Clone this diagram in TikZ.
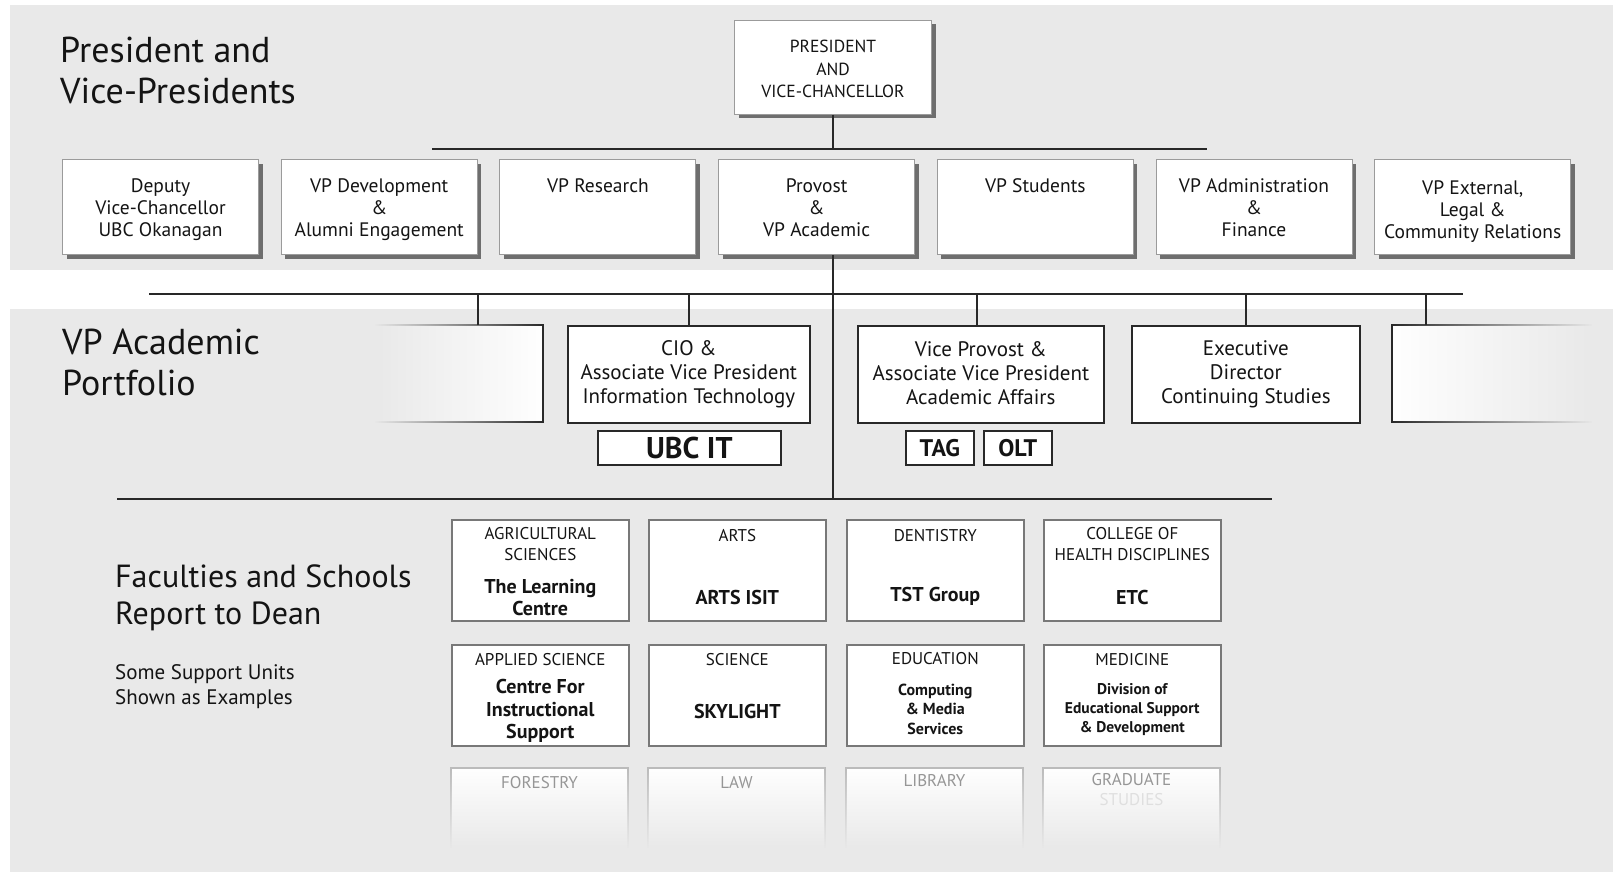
\documentclass[tikz,border=0pt]{standalone}
\usepackage{fontspec}
\setmainfont{PT Sans}
\usetikzlibrary{fadings,shadows}
\definecolor{bg}{RGB}{233,233,233}
\definecolor{ln}{RGB}{40,40,40}
\definecolor{vpb}{RGB}{155,155,155}
\definecolor{shd}{RGB}{110,110,110}
\definecolor{fcb}{RGB}{120,120,120}
\definecolor{txt}{RGB}{20,20,20}
\definecolor{ftx}{RGB}{150,150,150}
\tikzset{
  conn/.style={draw=ln, line width=1.6pt},
  vpbox/.style={draw=vpb, line width=1pt, fill=white, anchor=north west, inner sep=0pt,
     minimum width=196pt, minimum height=95pt,
     drop shadow={shadow xshift=4pt, shadow yshift=-4pt, fill=shd, opacity=1}},
  vptext/.style={font=\fontsize{19.5}{22}\selectfont, align=center, inner sep=0pt, text=txt},
  pbox/.style={draw=ln, line width=1.6pt, fill=white, anchor=north west, inner sep=0pt, minimum height=97pt},
  ptext/.style={font=\fontsize{21}{24}\selectfont, align=center, inner sep=0pt, text=txt},
  sbox/.style={draw=ln, line width=1.6pt, fill=white, anchor=north west, inner sep=0pt, minimum height=34pt},
  fbox/.style={draw=fcb, line width=1.6pt, fill=white, anchor=north west, inner sep=0pt,
     minimum width=177pt, minimum height=101pt},
  fcap/.style={font=\fontsize{17}{21}\selectfont, align=center, inner sep=0pt, text=txt},
  fbold/.style={font=\bfseries\fontsize{20}{22.5}\selectfont, align=center, inner sep=0pt, text=txt},
  fsmall/.style={font=\bfseries\fontsize{16}{19.5}\selectfont, align=center, inner sep=0pt, text=txt},
  ftxt/.style={font=\fontsize{17}{21}\selectfont, align=center, inner sep=0pt, text=ftx},
  ttl/.style={font=\fontsize{36}{41}\selectfont, align=left, anchor=north west, inner sep=0pt, text=txt},
}
\begin{document}
\begin{tikzpicture}[x=1pt,y=-1pt]
\useasboundingbox (0,0) rectangle (1613,872);
\fill[white] (0,0) rectangle (1613,872);
\fill[bg] (10,5) rectangle (1613,270);
\fill[bg] (10,309) rectangle (1613,872);

% titles
\node[ttl] (t1) at (60,37) {President and\\Vice-Presidents};
\node[ttl] (t2) at (62,329) {VP Academic\\Portfolio};
\node[ttl, font=\fontsize{32}{37}\selectfont] (t3) at (115,565) {Faculties and Schools\\Report to Dean};
\node[ttl, font=\fontsize{21}{25.5}\selectfont] (t4) at (115,664) {Some Support Units\\Shown as Examples};

% president
\node[vpbox, minimum width=197pt, minimum height=94pt] (pres) at (734,20) {};
\node[vptext, font=\fontsize{17.5}{22.5}\selectfont] (presT) at ([yshift=-1.5pt]pres.center) {PRESIDENT\\AND\\VICE-CHANCELLOR};

% vice presidents
\node[vpbox] (vp1) at (62,159) {};
\node[vpbox] (vp2) at (280.7,159) {};
\node[vpbox] (vp3) at (499.4,159) {};
\node[vpbox] (vp4) at (718.1,159) {};
\node[vpbox] (vp5) at (936.8,159) {};
\node[vpbox] (vp6) at (1155.5,159) {};
\node[vpbox] (vp7) at (1374.2,159) {};
\node[vptext] (vp1T) at (vp1.north |- 0,210) {Deputy\\Vice-Chancellor\\UBC Okanagan};
\node[vptext] (vp2T) at (vp2.north |- 0,210) {VP Development\\\&\\Alumni Engagement};
\node[vptext] (vp3T) at (vp3.north |- 0,186) {VP Research};
\node[vptext] (vp4T) at (vp4.north |- 0,208) {Provost\\\&\\VP Academic};
\node[vptext] (vp5T) at (vp5.north |- 0,186) {VP Students};
\node[vptext] (vp6T) at (vp6.north |- 0,208) {VP Administration\\\&\\Finance};
\node[vptext] (vp7T) at (vp7.north |- 0,212) {VP External,\\Legal \&\\Community Relations};

% bars
\coordinate (h1l) at (432,149);
\coordinate (h1r) at (1207,149);
\coordinate (h2l) at (149,294);
\coordinate (h2r) at (1463,294);
\coordinate (h3l) at (117,499);
\coordinate (h3r) at (1272,499);
\draw[conn] (h1l) -- (h1r);
\draw[conn] (h2l) -- (h2r);
\draw[conn] (h3l) -- (h3r);
\draw[conn] (pres.south) -- (pres.south |- h1l);
\draw[conn] (pres.south |- vp4.south) -- (pres.south |- h3l);

% faded portfolio boxes
\fill[white, path fading=west] (375,325) rectangle (543,422);
\draw[ln, line width=1.6pt, path fading=west] (375,325) -- (543,325) -- (543,422) -- (375,422);
\fill[white, path fading=east] (1392,325) rectangle (1592,422);
\draw[ln, line width=1.6pt, path fading=east] (1592,325) -- (1392,325) -- (1392,422) -- (1592,422);
\coordinate (fl) at (478,325);
\coordinate (fr) at (1426,325);

% portfolio
\node[pbox, minimum width=242pt] (cio) at (567,325) {};
\node[pbox, minimum width=246pt] (vpr) at (857,325) {};
\node[pbox, minimum width=228pt] (exd) at (1131,325) {};
\node[ptext] (cioT) at (cio.center) {CIO \&\\Associate Vice President\\Information Technology};
\node[ptext] (vprT) at ([yshift=1.5pt]vpr.center) {Vice Provost \&\\Associate Vice President\\Academic Affairs};
\node[ptext] (exdT) at (exd.center) {Executive\\Director\\Continuing Studies};
\draw[conn] (fl) -- (fl |- h2l);
\draw[conn] (cio.north) -- (cio.north |- h2l);
\draw[conn] ([xshift=-4pt]vpr.north) -- ([xshift=-4pt]vpr.north |- h2l);
\draw[conn] (exd.north) -- (exd.north |- h2l);
\draw[conn] (fr) -- (fr |- h2l);

\node[sbox, minimum width=183pt] (ubc) at (597,430) {};
\node[sbox, minimum width=68pt] (tag) at (905,430) {};
\node[sbox, minimum width=68pt] (olt) at (983,430) {};
\node[inner sep=0pt, font=\bfseries\fontsize{30}{30}\selectfont, text=txt] (ubcT) at (ubc.center) {UBC IT};
\node[inner sep=0pt, font=\bfseries\fontsize{24}{24}\selectfont, text=txt] (tagT) at (tag.center) {TAG};
\node[inner sep=0pt, font=\bfseries\fontsize{24}{24}\selectfont, text=txt] (oltT) at (olt.center) {OLT};

% faculties
\node[fbox] (agr) at (451,519) {};
\node[fbox] (arts) at (648,519) {};
\node[fbox] (dent) at (846,519) {};
\node[fbox] (chd) at (1043,519) {};
\node[fbox] (aps) at (451,644) {};
\node[fbox] (sci) at (648,644) {};
\node[fbox] (edu) at (846,644) {};
\node[fbox] (med) at (1043,644) {};

\node[fcap] (agrA) at (agr.north |- 0,544) {AGRICULTURAL\\SCIENCES};
\node[fbold] (agrB) at (agr.north |- 0,597.5) {The Learning\\Centre};
\node[fcap] (artsA) at (arts.north |- 0,536) {ARTS};
\node[fbold] (artsB) at (arts.north |- 0,597) {ARTS ISIT};
\node[fcap] (dentA) at (dent.north |- 0,536) {DENTISTRY};
\node[fbold] (dentB) at (dent.north |- 0,596) {TST Group};
\node[fcap] (chdA) at (chd.north |- 0,544.5) {COLLEGE OF\\HEALTH DISCIPLINES};
\node[fbold] (chdB) at (chd.north |- 0,597) {ETC};

\node[fcap] (apsA) at (aps.north |- 0,660) {APPLIED SCIENCE};
\node[fbold] (apsB) at (aps.north |- 0,711) {Centre For\\Instructional\\Support};
\node[fcap] (sciA) at (sci.north |- 0,660) {SCIENCE};
\node[fbold] (sciB) at (sci.north |- 0,711) {SKYLIGHT};
\node[fcap] (eduA) at (edu.north |- 0,659) {EDUCATION};
\node[fsmall] (eduB) at (edu.north |- 0,709) {Computing\\\& Media\\Services};
\node[fcap] (medA) at (med.north |- 0,660) {MEDICINE};
\node[fsmall, font=\bfseries\fontsize{15.5}{19}\selectfont] (medB) at (med.north |- 0,710) {Division of\\Educational Support\\\& Development};

% faded faculty row
\foreach \xx in {451,648,846,1043}{
  \fill[white, path fading=south] (\xx,768) rectangle ({\xx+177},848);
  \draw[fcb!50, line width=1.4pt, path fading=south] (\xx,848) -- (\xx,768) -- ({\xx+177},768) -- ({\xx+177},848);
}
\node[ftxt] (forT) at (539.5,783) {FORESTRY};
\node[ftxt] (lawT) at (736.5,783) {LAW};
\node[ftxt] (libT) at (934.5,781) {LIBRARY};
\node[ftxt] (graT) at (1131.5,780) {GRADUATE};
\node[ftxt, text=ftx!30] (stuT) at (1131.5,800) {STUDIES};
\end{tikzpicture}
\end{document}
